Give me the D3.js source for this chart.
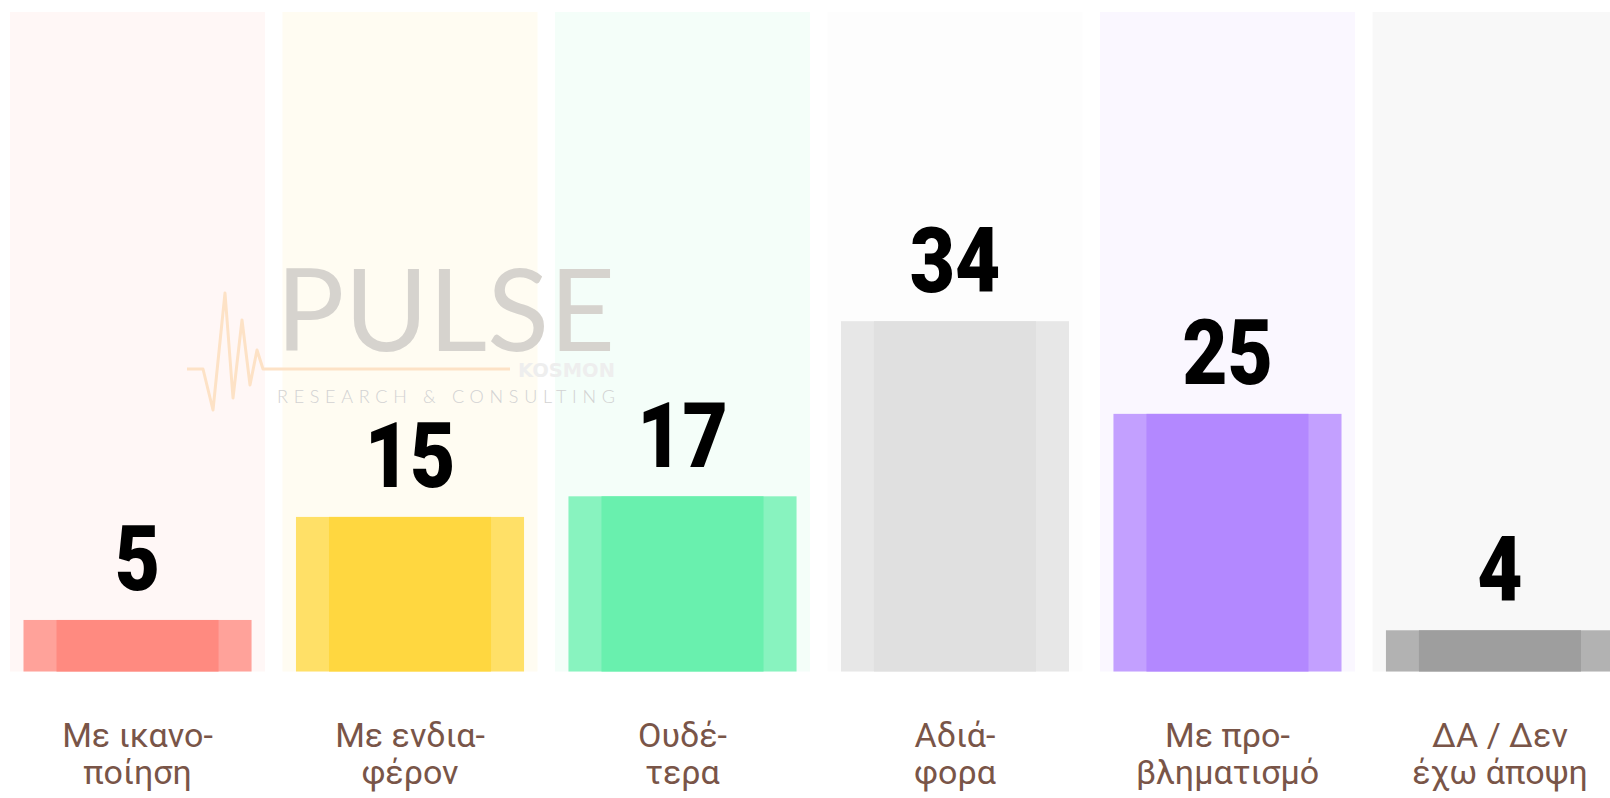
<!DOCTYPE html>
<html>
<head>
<meta charset="utf-8">
<script src="https://cdn.jsdelivr.net/npm/d3@7"></script>
<style>
  html, body { margin: 0; padding: 0; background: #fff; overflow: hidden; }
  svg { display: block; }
</style>
</head>
<body>
<div id="chart"></div>
<script>

// categories (two lines each) and values
var categories = ["ikanopoiisi", "endiaferon", "oudetera", "adiafora", "provlimatismo", "da"];
var labelLines = [
  ["Με ικανο-", "ποίηση"],
  ["Με ενδια-", "φέρον"],
  ["Ουδέ-", "τερα"],
  ["Αδιά-", "φορα"],
  ["Με προ-", "βληματισμό"],
  ["ΔΑ / Δεν", "έχω άποψη"]
];
var values = [5, 15, 17, 34, 25, 4];
var colors = ["#ff8a80", "#ffd740", "#69f0ae", "#e0e0e0", "#b388ff", "#9e9e9e"];
var maxValue = 64;

var width = 1610, height = 798;

var svg = d3.select("#chart").append("svg")
    .attr("width", width)
    .attr("height", height);

// band scale, the last column runs past the right edge like in the original
var x = d3.scaleBand()
    .domain(categories)
    .range([10, 1627.5])
    .paddingInner(0.064)
    .paddingOuter(0);

var y = d3.scaleLinear()
    .domain([0, maxValue])
    .range([671.5, 12]);

var barInset = 13.5,   // bar inside the panel
    coreInset = 33;    // darker core inside the bar

var data = categories.map(function(c, i) {
  return {key: c, value: values[i], color: colors[i], lines: labelLines[i]};
});

var col = svg.selectAll(null)
    .data(data)
    .enter()
    .append("g");

// light background panels
col.append("rect")
    .attr("x", function(d) { return x(d.key); })
    .attr("y", y(maxValue))
    .attr("width", x.bandwidth())
    .attr("height", y(0) - y(maxValue))
    .attr("fill", function(d) { return d.color; })
    .attr("fill-opacity", 0.07);

// --- watermark logo (behind the bars) ---
var logo = svg.append("g").attr("transform", "translate(187,0)");
logo.append("path")
    .attr("d", "M0,369 L16,369 L26,410 L38,293 L46,398 L55,320 L63,385 L70,350 L76,369 L323,369")
    .attr("fill", "none")
    .attr("stroke", "#fde2c6")
    .attr("stroke-width", 3)
    .attr("stroke-linejoin", "round");
logo.append("text")
    .attr("x", 89)
    .attr("y", 350.5)
    .attr("textLength", 339)
    .attr("lengthAdjust", "spacing")
    .style("font-family", "Lato, 'Open Sans', sans-serif")
    .style("font-weight", 400)
    .style("font-size", "114px")
    .style("fill", "#d6d3ce")
    .text("PULSE");
logo.append("text")
    .attr("x", 331)
    .attr("y", 377)
    .attr("textLength", 97)
    .attr("lengthAdjust", "spacingAndGlyphs")
    .style("font-family", "'DejaVu Sans Condensed', sans-serif")
    .style("font-weight", "bold")
    .style("font-size", "19px")
    .style("fill", "#eeeeee")
    .text("KOSMON");
logo.append("text")
    .attr("x", 90)
    .attr("y", 403)
    .attr("textLength", 338)
    .attr("lengthAdjust", "spacing")
    .style("font-family", "Lato, 'Open Sans', sans-serif")
    .style("font-weight", 300)
    .style("font-size", "18px")
    .style("fill", "#d2d2d2")
    .text("RESEARCH & CONSULTING");

// bars: lighter full bar + solid core
var bars = svg.selectAll(null)
    .data(data)
    .enter()
    .append("g");

bars.append("rect")
    .attr("x", function(d) { return x(d.key) + barInset; })
    .attr("y", function(d) { return y(d.value); })
    .attr("width", x.bandwidth() - 2 * barInset)
    .attr("height", function(d) { return y(0) - y(d.value); })
    .attr("fill", function(d) { return d.color; })
    .attr("fill-opacity", 0.78);

bars.append("rect")
    .attr("x", function(d) { return x(d.key) + barInset + coreInset; })
    .attr("y", function(d) { return y(d.value); })
    .attr("width", x.bandwidth() - 2 * (barInset + coreInset))
    .attr("height", function(d) { return y(0) - y(d.value); })
    .attr("fill", function(d) { return d.color; });

// value labels (condensed look: Roboto squeezed horizontally)
bars.append("g")
    .attr("transform", function(d) {
      return "translate(" + (x(d.key) + x.bandwidth() / 2) + "," + (y(d.value) - 29.5) + ") scale(0.86,1)";
    })
    .append("text")
    .attr("text-anchor", "middle")
    .style("font-family", "Roboto, 'DejaVu Sans Condensed', sans-serif")
    .style("font-weight", 900)
    .style("font-size", "91px")
    .style("fill", "#000")
    .text(function(d) { return d.value; });

// category labels, two lines
var cat = bars.append("text")
    .attr("text-anchor", "middle")
    .style("font-family", "Roboto, 'Noto Sans', sans-serif")
    .style("font-size", "34px")
    .style("fill", "#795548");

cat.selectAll("tspan")
    .data(function(d) { return d.lines.map(function(l) { return {l: l, cx: x(d.key) + x.bandwidth() / 2}; }); })
    .enter()
    .append("tspan")
    .attr("x", function(t) { return t.cx; })
    .attr("y", function(t, i) { return 747 + i * 37; })
    .text(function(t) { return t.l; });

</script>
</body>
</html>
